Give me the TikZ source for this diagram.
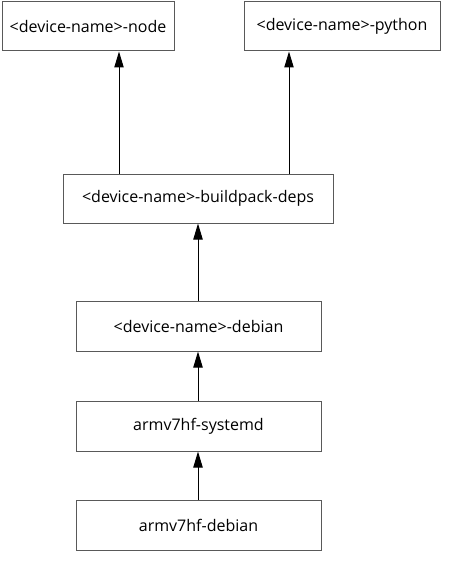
\documentclass[tikz,border=0pt]{standalone}
\usepackage{fontspec}
\setmainfont{Open Sans}
\usetikzlibrary{arrows.meta}
\begin{document}
\begin{tikzpicture}[x=0.75pt,y=-0.75pt,
  box/.style={draw=black!65,line width=0.75pt,fill=white,inner sep=0pt,font=\fontsize{12pt}{14pt}\selectfont},
  arr/.style={draw=black,line width=0.75pt,-{Triangle[width=7pt,length=12pt]}}]
\useasboundingbox (0,0) rectangle (470,574);
\node[box,minimum width=129pt,minimum height=36.75pt] (n1) at (88,26.5) {<device-name>-node};
\node[box,minimum width=147pt,minimum height=36.75pt] (n2) at (342,26.5) {<device-name>-python};
\node[box,minimum width=202.5pt,minimum height=36.75pt] (n3) at (198,198.5) {<device-name>-buildpack-deps};
\node[box,minimum width=183.75pt,minimum height=37.5pt] (n4) at (198.5,326) {<device-name>-debian};
\node[box,minimum width=183.75pt,minimum height=37.5pt] (n5) at (198.5,426) {armv7hf-systemd};
\node[box,minimum width=183.75pt,minimum height=37.5pt] (n6) at (198.5,525.5) {armv7hf-debian};
\coordinate (a1) at (119,0);
\coordinate (a2) at (289,0);
\coordinate (a3) at (198,0);
\draw[arr] (n3.north -| a1) -- (n1.south -| a1);
\draw[arr] (n3.north -| a2) -- (n2.south -| a2);
\draw[arr] (n4.north -| a3) -- (n3.south -| a3);
\draw[arr] (n5.north -| a3) -- (n4.south -| a3);
\draw[arr] (n6.north -| a3) -- (n5.south -| a3);
\end{tikzpicture}
\end{document}
